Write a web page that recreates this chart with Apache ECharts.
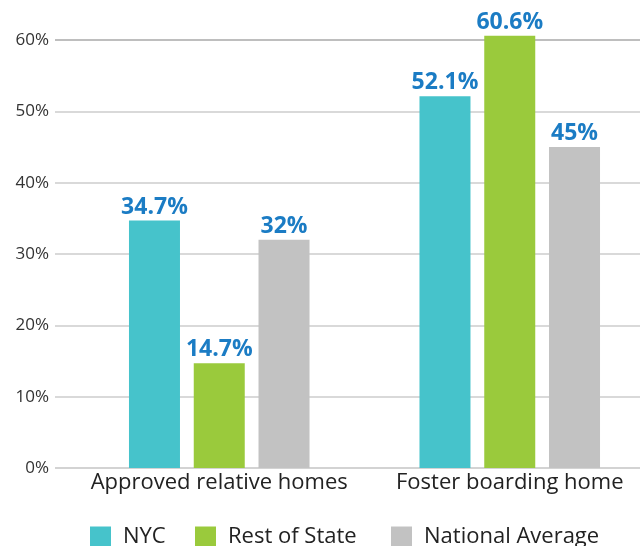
<!DOCTYPE html>
<html>
<head>
<meta charset="utf-8">
<script src="https://cdn.jsdelivr.net/npm/echarts@6/dist/echarts.min.js"></script>
<style>
  html, body { margin: 0; padding: 0; background: #fff; }
  #echarts { width: 640px; height: 546px; }
</style>
</head>
<body>
<div id="echarts"></div>
<script>
var categories = ['Approved relative homes', 'Foster boarding home'];
var nycValues = [34.7, 52.1];
var restOfStateValues = [14.7, 60.6];
var nationalValues = [32, 45];
var tickLabels = ['0%', '10%', '20%', '30%', '40%', '50%', '60%'];

var fontFam = '"Open Sans", "Noto Sans", sans-serif';

var myChart = echarts.init(document.getElementById('echarts'));

function barSeries(name, data, color) {
    return {
        name: name,
        type: 'bar',
        xAxisIndex: 1,
        yAxisIndex: 1,
        clip: false,
        barWidth: 51,
        barGap: '27%',
        data: data,
        itemStyle: { color: color },
        label: {
            show: true,
            position: 'top',
            distance: 2,
            formatter: '{c}%',
            color: '#1b7cc4',
            fontWeight: 'bold',
            fontSize: 23,
            fontFamily: fontFam
        }
    };
}

function legendItem(name, left) {
    return {
        bottom: -7,
        left: left,
        itemWidth: 21,
        itemHeight: 21,
        icon: 'rect',
        textStyle: { fontSize: 22, color: '#222', fontFamily: fontFam, padding: [0, 0, 0, 7] },
        data: [name]
    };
}

var option = {
    animation: false,
    legend: [
        legendItem('NYC', 85),
        legendItem('Rest of State', 190),
        legendItem('National Average', 386)
    ],
    grid: [
        { left: 55, right: 0, top: 40, bottom: 78 },
        { left: 74, right: -15, top: 40, bottom: 78, outerBoundsMode: 'none' }
    ],
    xAxis: [
        { type: 'category', gridIndex: 0, show: false, data: [] },
        {
            type: 'category',
            gridIndex: 1,
            data: categories,
            axisLine: { show: false },
            axisTick: { show: false },
            axisLabel: { fontSize: 22, color: '#222', margin: 4, interval: 0, fontFamily: fontFam }
        }
    ],
    yAxis: [
        {
            type: 'value',
            gridIndex: 0,
            min: 0,
            max: 60,
            interval: 10,
            axisLine: { show: false },
            axisTick: { show: false },
            axisLabel: {
                fontSize: 17,
                color: '#333',
                margin: 6,
                fontFamily: fontFam,
                formatter: function (v) { return tickLabels[Math.round(v / 10)]; }
            },
            splitLine: {
                lineStyle: {
                    color: ['#c4c4c4', '#cccccc', '#cccccc', '#cccccc', '#cccccc', '#cccccc', '#a8a8a8'],
                    width: 1.5
                }
            }
        },
        { type: 'value', gridIndex: 1, min: 0, max: 60, interval: 10, show: false }
    ],
    series: [
        barSeries('NYC', nycValues, '#46c3cb'),
        barSeries('Rest of State', restOfStateValues, '#9aca3c'),
        barSeries('National Average', nationalValues, '#c2c2c2')
    ]
};
myChart.setOption(option);
</script>
</body>
</html>
